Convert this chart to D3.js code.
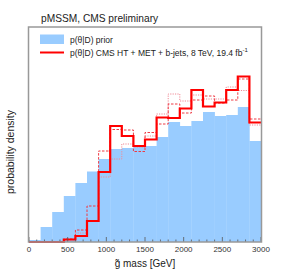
<!DOCTYPE html>
<html><head><meta charset="utf-8">
<script src="https://cdn.jsdelivr.net/npm/d3@7"></script>
<style>body{margin:0;background:#fff}svg{display:block}</style></head><body>
<script>
// gluino mass bins (GeV), 150 GeV wide
const binStarts = [0,150,300,450,600,750,900,1050,1200,1350,1500,1650,1800,1950,2100,2250,2400,2550,2700,2850];
const binWidth = 150;
// probability density (arbitrary units)
const prior     = [2,15,30,46,59,70.5,83,93,94,95,96,105,120,116,121,130,126,127,135,101];
const posterior = [0,0,0,2.5,6,21,70,116,106,96,102.5,124.5,124,133.5,152,135.5,139.5,152,165.5,119.5];
const postDashed= [0,0,0,3,12,36,91,112.5,112,90.5,109.5,118,138,129,142,146,139,142,163,123];
const postDotted= [0,0,0,2,9,21,65,83,98,95,106,128,148,141,147,143,143,155,151.5,117];
const xTicks = [0,500,1000,1500,2000,2500,3000];
const legendLabels = ["p(θ|D) prior","p(θ|D) CMS HT + MET + b-jets, 8 TeV, 19.4 fb"];

const W=291,H=276;
const svg=d3.select("body").append("svg").attr("width",W).attr("height",H);
const x=d3.scaleLinear().domain([0,3000]).range([29,261]);
const y=d3.scaleLinear().domain([0,215]).range([242,27]);
const font="Liberation Sans, Arial, Helvetica, sans-serif";

svg.append("g").selectAll("rect").data(prior).join("rect")
  .attr("x",(d,i)=>x(binStarts[i]))
  .attr("width",(d,i)=>x(binStarts[i]+binWidth)-x(binStarts[i])+0.3)
  .attr("y",d=>y(d)).attr("height",d=>y(0)-y(d))
  .attr("fill","#99ccff");

function stepPts(vals){const p=[];vals.forEach((v,i)=>{p.push([binStarts[i],v]);p.push([binStarts[i]+binWidth,v]);});return p;}
const line=d3.line().x(p=>x(p[0])).y(p=>y(p[1]));

svg.append("path").attr("d",line(stepPts(postDotted))).attr("fill","none")
  .attr("stroke","#f08a96").attr("stroke-width",1).attr("stroke-dasharray","1.2,1.2");
svg.append("path").attr("d",line(stepPts(postDashed))).attr("fill","none")
  .attr("stroke","#ee3a45").attr("stroke-width",1).attr("stroke-dasharray","2.5,1.5");
svg.append("path").attr("d",line(stepPts(posterior))).attr("fill","none")
  .attr("stroke","#ff0000").attr("stroke-width",2.2);

// axis ticks (inside)
const ax=svg.append("g").attr("transform","translate(0,242)");
const minor=d3.range(0,3001,100);
ax.selectAll("line.mi").data(minor).join("line")
  .attr("x1",d=>x(d)).attr("x2",d=>x(d)).attr("y1",0).attr("y2",d=>d%500===0?-5:-2.5)
  .attr("stroke","#555").attr("stroke-width",0.8);
ax.selectAll("text").data(xTicks).join("text")
  .attr("x",d=>x(d)).attr("y",10).attr("text-anchor","middle")
  .attr("font-family",font).attr("font-size",8).attr("fill","#333").text(d=>d);

// frame
svg.append("rect").attr("x",x(0)-0.5).attr("y",27).attr("width",x(3000)-x(0)+1).attr("height",215)
  .attr("fill","none").attr("stroke","#999").attr("stroke-width",1.5);

// title
svg.append("text").attr("x",41).attr("y",22).attr("font-family",font).attr("font-size",10.2)
  .attr("fill","#222").text("pMSSM, CMS preliminary");

// legend
svg.append("rect").attr("x",40).attr("y",34.5).attr("width",24).attr("height",9.5).attr("fill","#99ccff");
svg.append("line").attr("x1",40).attr("x2",64).attr("y1",52.5).attr("y2",52.5).attr("stroke","#ff0000").attr("stroke-width",2);
svg.append("text").attr("x",70).attr("y",42.5).attr("font-family",font).attr("font-size",8.5).attr("fill","#222").text(legendLabels[0]);
const t2=svg.append("text").attr("x",70).attr("y",55.5).attr("font-family",font).attr("font-size",8.5).attr("fill","#222").text(legendLabels[1]);
t2.append("tspan").attr("dy",-3.5).attr("font-size",6).text("-1");

// axis titles
svg.append("text").attr("x",145).attr("y",267).attr("text-anchor","middle").attr("font-family",font)
  .attr("font-size",10).attr("fill","#222").text("g\u0303 mass [GeV]");
svg.append("text").attr("transform","translate(14,152) rotate(-90)").attr("text-anchor","middle")
  .attr("font-family",font).attr("font-size",10.5).attr("fill","#222").text("probability density");
</script>
</body></html>
